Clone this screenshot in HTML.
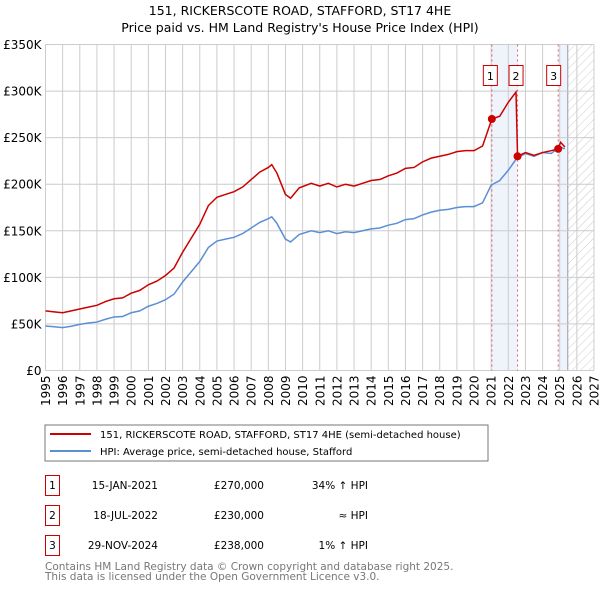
<!DOCTYPE html>
<html><head><meta charset="utf-8"><style>
body{margin:0;background:#fff;font-family:"DejaVu Sans","Liberation Sans",sans-serif;}
svg text{font-family:"DejaVu Sans","Liberation Sans",sans-serif;}
</style></head><body>
<svg id="c" width="600" height="590" xmlns="http://www.w3.org/2000/svg">
<defs><pattern id="hatch" width="6" height="6" patternUnits="userSpaceOnUse" patternTransform="rotate(45)"><line x1="0" y1="0" x2="0" y2="6" stroke="#ccc" stroke-width="1"/></pattern></defs>
<text x="300" y="15" text-anchor="middle" font-size="12.5">151, RICKERSCOTE ROAD, STAFFORD, ST17 4HE</text>
<text x="300" y="32" text-anchor="middle" font-size="12.5">Price paid vs. HM Land Registry's House Price Index (HPI)</text>
<g id="grid"></g><g id="marks"></g>
<rect x="45" y="425" width="443" height="36" fill="#fff" stroke="#777"/>
<line x1="50" y1="434" x2="91" y2="434" stroke="#cc0000" stroke-width="2"/>
<text x="100" y="438" font-size="10">151, RICKERSCOTE ROAD, STAFFORD, ST17 4HE (semi-detached house)</text>
<line x1="50" y1="451" x2="91" y2="451" stroke="#5b8fd4" stroke-width="2"/>
<text x="100" y="455" font-size="10">HPI: Average price, semi-detached house, Stafford</text>
<g font-size="10.5">
<rect x="45.5" y="475.5" width="14" height="20" fill="none" stroke="#cc0000"/><text x="52.5" y="489" text-anchor="middle">1</text>
<text x="158" y="489" text-anchor="end">15-JAN-2021</text>
<text x="264" y="489" text-anchor="end">£270,000</text>
<text x="368" y="489" text-anchor="end">34% ↑ HPI</text>
<rect x="45.5" y="505.5" width="14" height="20" fill="none" stroke="#cc0000"/><text x="52.5" y="519" text-anchor="middle">2</text>
<text x="158" y="519" text-anchor="end">18-JUL-2022</text>
<text x="264" y="519" text-anchor="end">£230,000</text>
<text x="368" y="519" text-anchor="end">≈ HPI</text>
<rect x="45.5" y="535.5" width="14" height="20" fill="none" stroke="#cc0000"/><text x="52.5" y="549" text-anchor="middle">3</text>
<text x="158" y="549" text-anchor="end">29-NOV-2024</text>
<text x="264" y="549" text-anchor="end">£238,000</text>
<text x="368" y="549" text-anchor="end">1% ↑ HPI</text>
</g>
<text x="45" y="570" font-size="10.5" fill="#777">Contains HM Land Registry data © Crown copyright and database right 2025.</text>
<text x="45" y="580" font-size="10.5" fill="#777">This data is licensed under the Open Government Licence v3.0.</text>
</svg>
<script>
const hpiYears=[1995,1995.5,1996,1996.5,1997,1997.5,1998,1998.5,1999,1999.5,2000,2000.5,2001,2001.5,2002,2002.5,2003,2003.5,2004,2004.5,2005,2005.5,2006,2006.5,2007,2007.5,2008,2008.2,2008.5,2009,2009.3,2009.8,2010.5,2011,2011.5,2012,2012.5,2013,2013.5,2014,2014.5,2015,2015.5,2016,2016.5,2017,2017.5,2018,2018.5,2019,2019.5,2020,2020.5,2021,2021.5,2022,2022.5,2023,2023.5,2024,2024.5,2025,2025.3];
const hpiValues=[47.8,47,46,47.5,49.5,51,52,55,57.5,58,62,64,69,72,76,82,95,106,117,132,139,141,143,147,153,159,163,165,158,141,138,146,150,148,150,147,149,148,150,152,153,156,158,162,163,167,170,172,173,175,176,176,180,199,204,215,228,233,230,234,233,240,238];
const priceYears=[1995,1995.5,1996,1996.5,1997,1997.5,1998,1998.5,1999,1999.5,2000,2000.5,2001,2001.5,2002,2002.5,2003,2003.5,2004,2004.5,2005,2005.5,2006,2006.5,2007,2007.5,2008,2008.2,2008.5,2009,2009.3,2009.8,2010.5,2011,2011.5,2012,2012.5,2013,2013.5,2014,2014.5,2015,2015.5,2016,2016.5,2017,2017.5,2018,2018.5,2019,2019.5,2020,2020.5,2021.04,2021.5,2022,2022.45,2022.54,2023,2023.5,2024,2024.5,2024.91,2025.05,2025.3];
const priceValues=[64,63,62,64,66,68,70,74,77,78,83,86,92,96,102,110,127,142,157,177,186,189,192,197,205,213,218,221,212,189,185,196,201,198,201,197,200,198,201,204,205,209,212,217,218,224,228,230,232,235,236,236,241,270,273,288,299,230,234,231,234,236,238,245,240];
const saleYears=[2021.04,2022.54,2024.91];
const salePrices=[270,230,238];
const saleLabels=['1','2','3'];
const yTicks=[0,50,100,150,200,250,300,350];
const yTickLabels=['£0','£50K','£100K','£150K','£200K','£250K','£300K','£350K'];
const xTicks=[1995,1996,1997,1998,1999,2000,2001,2002,2003,2004,2005,2006,2007,2008,2009,2010,2011,2012,2013,2014,2015,2016,2017,2018,2019,2020,2021,2022,2023,2024,2025,2026,2027];
const X0=45.5,X1=594,Y0=370.5,Y1=44.5;
const xs=y=>X0+(y-1995)/(2027-1995)*(X1-X0);
const ys=v=>Y0-v/350*(Y0-Y1);
const NS='http://www.w3.org/2000/svg';
function mk(parent,tag,attrs){const e=document.createElementNS(NS,tag);for(const k in attrs)e.setAttribute(k,attrs[k]);parent.appendChild(e);return e;}
const grid=document.getElementById('grid'),marks=document.getElementById('marks');
let r=mk(grid,'rect',{x:xs(saleYears[0]),y:Y1,width:xs(saleYears[1])-xs(saleYears[0]),height:Y0-Y1,fill:'#eef3fc'});


r=mk(grid,'rect',{x:xs(saleYears[2]),y:Y1,width:xs(2025.47)-xs(saleYears[2]),height:Y0-Y1,fill:'#eef3fc'});


r=mk(grid,'rect',{x:xs(2025.47),y:Y1,width:X1-xs(2025.47),height:Y0-Y1,fill:'url(#hatch)'});


mk(grid,'line',{x1:xs(2025.47),y1:Y1,x2:xs(2025.47),y2:Y0,stroke:'#99a'});
yTicks.forEach((t,i)=>{
 mk(grid,'line',{x1:X0,x2:X1,y1:ys(t),y2:ys(t),stroke:'#ccc'});
 const tx=mk(grid,'text',{x:X0-4,y:ys(t)+4.5,'text-anchor':'end','font-size':12});
 tx.textContent=yTickLabels[i];
 
 
});
xTicks.forEach(t=>{
 mk(grid,'line',{x1:xs(t),x2:xs(t),y1:Y1,y2:Y0,stroke:'#ccc'});
 const tx=mk(grid,'text',{x:0,y:0,'text-anchor':'end','font-size':12,transform:`translate(${xs(t)+4.5},${Y0+5}) rotate(-90)`});
 tx.textContent=String(t);
 
 
});
saleYears.forEach((s,i)=>{
 const l=mk(grid,'line',{x1:xs(s),x2:xs(s),y1:Y1,y2:Y0,stroke:'#e06060','stroke-dasharray':'2,3'});
 
 
});
let hp=mk(marks,'polyline',{points:hpiYears.map((y,i)=>xs(y)+','+ys(hpiValues[i])).join(' '),fill:'none',stroke:'#5b8fd4','stroke-width':1.5});


let pp=mk(marks,'polyline',{points:priceYears.map((y,i)=>xs(y)+','+ys(priceValues[i])).join(' '),fill:'none',stroke:'#cc0000','stroke-width':1.5});


saleYears.forEach((s,i)=>{
 const c=mk(marks,'circle',{cx:xs(s),cy:ys(salePrices[i]),r:4,fill:'#cc0000'});
 
 
 const off=i==2?-3:0;
 const b=mk(marks,'rect',{x:xs(s)-8.5+off,y:65.5,width:14,height:20,fill:'#fff',stroke:'#cc0000'});
 
 
 const t=mk(marks,'text',{x:xs(s)-1.5+off,y:80,'text-anchor':'middle','font-size':11});
 t.textContent=saleLabels[i];
 
 
});
</script>
</body></html>
